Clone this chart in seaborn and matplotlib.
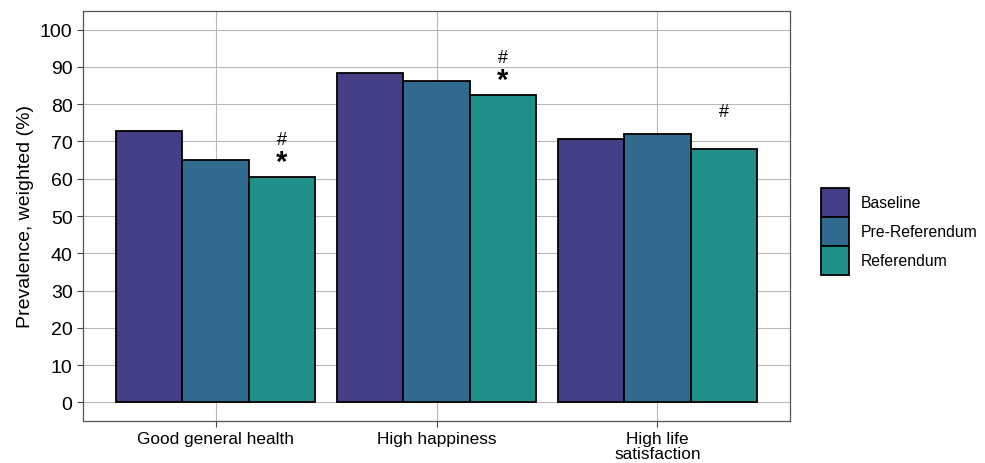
import pandas as pd
import seaborn as sns
import matplotlib.pyplot as plt
from matplotlib.patches import Patch

outcomes = ["Good general health", "High happiness", "High life\nsatisfaction"]
periods = ["Baseline", "Pre-Referendum", "Referendum"]
baseline = [72.7, 88.4, 70.6]
pre_ref = [65.0, 86.3, 71.9]
referendum = [60.4, 82.4, 67.9]
hash_marks = [True, True, True]
star_marks = [True, True, False]
colors = ["#433e85", "#306a8e", "#1f8f8a"]

rows = []
for i, o in enumerate(outcomes):
    for p, vals in zip(periods, [baseline, pre_ref, referendum]):
        rows.append({"outcome": o, "period": p, "value": vals[i]})
df = pd.DataFrame(rows)

sns.set_style("white")
plt.rcParams['font.family'] = ['Liberation Sans', 'DejaVu Sans']
plt.rcParams['text.color'] = 'black'
plt.rcParams['axes.labelcolor'] = 'black'
plt.rcParams['xtick.color'] = '#444444'
plt.rcParams['ytick.color'] = '#444444'

fig = plt.figure(figsize=(9.85, 4.64), dpi=100)
ax = fig.add_axes([83/985, 42/464, (790-83)/985, (422-12)/464])

sns.barplot(data=df, x="outcome", y="value", hue="period", palette=colors,
            saturation=1, edgecolor="black", linewidth=1.3, width=0.9, ax=ax,
            legend=False, errorbar=None, zorder=3)

ax.set_ylim(-5, 105)
ax.set_xlim(-0.6, 2.6)
ax.set_yticks(range(0, 101, 10))
ax.grid(True, color="#b8b8b8", linewidth=0.8, zorder=0)
ax.set_axisbelow(True)
for s in ax.spines.values():
    s.set_color("#555555")
    s.set_linewidth(0.9)
ax.tick_params(axis="y", labelsize=14, length=4, left=True, labelcolor="black")
ax.tick_params(axis="x", labelsize=12.4, length=4, bottom=True, pad=3, labelcolor="black")
ax.set_xlabel("")
ax.set_ylabel("Prevalence, weighted (%)", fontsize=14)
for lab in ax.get_xticklabels():
    lab.set_linespacing(1.05)

# significance marks above Referendum bars
off = 0.3
for i, v in enumerate(referendum):
    if star_marks[i]:
        ax.text(i + off, v + 4.0, "*", ha="center", va="center",
                fontsize=21, fontweight="bold")
    if hash_marks[i]:
        ax.text(i + off, v + 10.2, "#", ha="center", va="center", fontsize=13)

handles = [Patch(facecolor=c, edgecolor="black", linewidth=1.3) for c in colors]
fig.legend(handles, periods, loc="center left", bbox_to_anchor=(810/985, 0.499),
           frameon=False, fontsize=11.3, handlelength=1.78, handleheight=2.47,
           labelspacing=0.0, handletextpad=0.76, borderpad=0.2)

fig.savefig("out.png", dpi=100)
